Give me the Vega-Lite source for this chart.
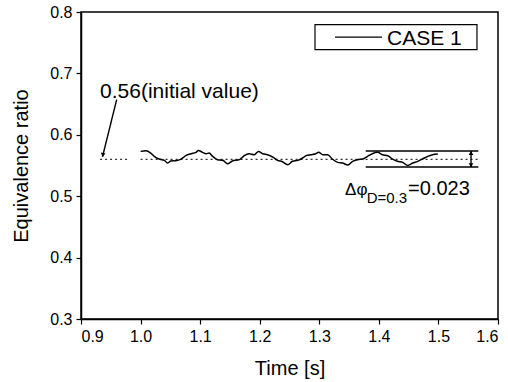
{
  "$schema": "https://vega.github.io/schema/vega-lite/v6.json",
  "width": 417,
  "height": 307,
  "autosize": {"type": "none"},
  "padding": {"left": 81, "top": 12, "right": 10, "bottom": 63},
  "background": "white",
  "config": {
    "font": "Liberation Sans",
    "view": {"stroke": "black", "strokeWidth": 1.5},
    "text": {"align": "left", "baseline": "alphabetic", "color": "black", "font": "Liberation Sans"},
    "axis": {
      "grid": false,
      "domainColor": "black",
      "domainWidth": 1.5,
      "tickColor": "black",
      "tickWidth": 1.2,
      "labelColor": "black",
      "titleColor": "black",
      "labelFont": "Liberation Sans",
      "titleFont": "Liberation Sans",
      "labelFontSize": 16,
      "titleFontSize": 20,
      "titleFontWeight": "normal",
      "labelPadding": 4
    }
  },
  "datasets": {
    "curve": [
      {"t": 1.000, "phi": 0.5730}, {"t": 1.009, "phi": 0.5741}, {"t": 1.017, "phi": 0.5703},
      {"t": 1.023, "phi": 0.5649}, {"t": 1.031, "phi": 0.5605}, {"t": 1.040, "phi": 0.5584},
      {"t": 1.045, "phi": 0.5540}, {"t": 1.051, "phi": 0.5573}, {"t": 1.059, "phi": 0.5578},
      {"t": 1.068, "phi": 0.5605}, {"t": 1.076, "phi": 0.5660}, {"t": 1.085, "phi": 0.5692},
      {"t": 1.093, "phi": 0.5714}, {"t": 1.097, "phi": 0.5746}, {"t": 1.104, "phi": 0.5714},
      {"t": 1.110, "phi": 0.5692}, {"t": 1.115, "phi": 0.5703}, {"t": 1.121, "phi": 0.5649},
      {"t": 1.129, "phi": 0.5595}, {"t": 1.138, "phi": 0.5584}, {"t": 1.146, "phi": 0.5529},
      {"t": 1.154, "phi": 0.5573}, {"t": 1.166, "phi": 0.5595}, {"t": 1.174, "phi": 0.5660},
      {"t": 1.182, "phi": 0.5692}, {"t": 1.191, "phi": 0.5676}, {"t": 1.198, "phi": 0.5730},
      {"t": 1.205, "phi": 0.5692}, {"t": 1.213, "phi": 0.5676}, {"t": 1.222, "phi": 0.5638},
      {"t": 1.230, "phi": 0.5584}, {"t": 1.238, "phi": 0.5562}, {"t": 1.247, "phi": 0.5513},
      {"t": 1.255, "phi": 0.5568}, {"t": 1.264, "phi": 0.5584}, {"t": 1.272, "phi": 0.5622},
      {"t": 1.278, "phi": 0.5660}, {"t": 1.286, "phi": 0.5676}, {"t": 1.294, "phi": 0.5692},
      {"t": 1.299, "phi": 0.5714}, {"t": 1.306, "phi": 0.5676}, {"t": 1.314, "phi": 0.5676},
      {"t": 1.322, "phi": 0.5605}, {"t": 1.331, "phi": 0.5551}, {"t": 1.339, "phi": 0.5540},
      {"t": 1.348, "phi": 0.5508}, {"t": 1.356, "phi": 0.5568}, {"t": 1.364, "phi": 0.5595},
      {"t": 1.373, "phi": 0.5605}, {"t": 1.381, "phi": 0.5649}, {"t": 1.389, "phi": 0.5692},
      {"t": 1.398, "phi": 0.5714}, {"t": 1.406, "phi": 0.5676}, {"t": 1.415, "phi": 0.5660},
      {"t": 1.423, "phi": 0.5605}, {"t": 1.431, "phi": 0.5568}, {"t": 1.440, "phi": 0.5551},
      {"t": 1.448, "phi": 0.5502}, {"t": 1.457, "phi": 0.5540}, {"t": 1.465, "phi": 0.5568},
      {"t": 1.473, "phi": 0.5605}, {"t": 1.482, "phi": 0.5649}, {"t": 1.490, "phi": 0.5676},
      {"t": 1.499, "phi": 0.5687}
    ],
    "dotted": [
      {"x": 0.932, "x2": 0.981, "y": 0.56, "y2": 0.56},
      {"x": 1.000, "x2": 1.568, "y": 0.56, "y2": 0.56}
    ],
    "solid": [
      {"x": 1.378, "x2": 1.567, "y": 0.5735, "y2": 0.5735},
      {"x": 1.378, "x2": 1.567, "y": 0.5475, "y2": 0.5475},
      {"x": 1.5547, "x2": 1.5547, "y": 0.5735, "y2": 0.5475},
      {"x": 0.9599, "x2": 0.9361, "y": 0.6572, "y2": 0.5643},
      {"x": 1.3264, "x2": 1.4053, "y": 0.759, "y2": 0.759}
    ],
    "arrowsDown": [
      {"x": 0.9366, "y": 0.5672, "a": 12},
      {"x": 1.5547, "y": 0.5505, "a": 0}
    ],
    "arrowsUp": [
      {"x": 1.5547, "y": 0.5705}
    ],
    "legendBox": [
      {"x": 1.2928, "x2": 1.5647, "y": 0.7793, "y2": 0.7386}
    ],
    "note": [
      {"x": 0.932, "y": 0.6604, "label": "0.56(initial value)"}
    ],
    "delta": [
      {"x": 1.3432, "y": 0.5025, "label": "Δφ"}
    ],
    "deltaValue": [
      {"x": 1.449, "y": 0.5025, "label": "=0.023"}
    ],
    "deltaSub": [
      {"x": 1.3795, "y": 0.4885, "label": "D=0.3"}
    ],
    "legendText": [
      {"x": 1.4137, "y": 0.7467, "label": "CASE 1"}
    ]
  },
  "layer": [
    {
      "data": {"name": "legendBox"},
      "mark": {"type": "rect", "fill": "white", "stroke": "black", "strokeWidth": 1.2},
      "encoding": {
        "x": {"field": "x", "type": "quantitative", "scale": {"domain": [0.9, 1.6], "nice": false, "zero": false},
          "axis": {
            "title": "Time [s]",
            "values": [0.9, 0.95, 1.0, 1.05, 1.1, 1.15, 1.2, 1.25, 1.3, 1.35, 1.4, 1.45, 1.5, 1.55, 1.6],
            "labelExpr": "abs(datum.value*10 - round(datum.value*10)) < 0.001 ? format(datum.value, '.1f') : ''",
            "tickSize": {"condition": {"test": "abs(datum.value*10 - round(datum.value*10)) < 0.001", "value": 5}, "value": 3},
            "titlePadding": 14
          }},
        "x2": {"field": "x2"},
        "y": {"field": "y", "type": "quantitative", "scale": {"domain": [0.3, 0.8], "nice": false, "zero": false},
          "axis": {
            "title": "Equivalence ratio",
            "values": [0.3, 0.35, 0.4, 0.45, 0.5, 0.55, 0.6, 0.65, 0.7, 0.75, 0.8],
            "labelExpr": "abs(datum.value*10 - round(datum.value*10)) < 0.001 ? format(datum.value, '.1f') : ''",
            "tickSize": {"condition": {"test": "abs(datum.value*10 - round(datum.value*10)) < 0.001", "value": 5}, "value": 3},
            "titlePadding": 18
          }},
        "y2": {"field": "y2"}
      }
    },
    {
      "data": {"name": "dotted"},
      "mark": {"type": "rule", "stroke": "#333333", "strokeWidth": 1.2, "strokeDash": [2, 3]},
      "encoding": {
        "x": {"field": "x", "type": "quantitative"},
        "x2": {"field": "x2"},
        "y": {"field": "y", "type": "quantitative"},
        "y2": {"field": "y2"}
      }
    },
    {
      "data": {"name": "solid"},
      "mark": {"type": "rule", "stroke": "black", "strokeWidth": 1.4},
      "encoding": {
        "x": {"field": "x", "type": "quantitative"},
        "x2": {"field": "x2"},
        "y": {"field": "y", "type": "quantitative"},
        "y2": {"field": "y2"}
      }
    },
    {
      "data": {"name": "curve"},
      "mark": {"type": "line", "stroke": "black", "strokeWidth": 1.5, "interpolate": "monotone"},
      "encoding": {
        "x": {"field": "t", "type": "quantitative"},
        "y": {"field": "phi", "type": "quantitative"}
      }
    },
    {
      "data": {"name": "arrowsDown"},
      "mark": {"type": "point", "shape": "triangle-down", "filled": true, "color": "black", "size": 22, "opacity": 1},
      "encoding": {
        "x": {"field": "x", "type": "quantitative"},
        "y": {"field": "y", "type": "quantitative"},
        "angle": {"field": "a", "type": "quantitative", "scale": null}
      }
    },
    {
      "data": {"name": "arrowsUp"},
      "mark": {"type": "point", "shape": "triangle-up", "filled": true, "color": "black", "size": 22, "opacity": 1},
      "encoding": {
        "x": {"field": "x", "type": "quantitative"},
        "y": {"field": "y", "type": "quantitative"}
      }
    },
    {
      "data": {"name": "note"},
      "mark": {"type": "text", "fontSize": 21},
      "encoding": {
        "x": {"field": "x", "type": "quantitative"},
        "y": {"field": "y", "type": "quantitative"},
        "text": {"field": "label"}
      }
    },
    {
      "data": {"name": "delta"},
      "mark": {"type": "text", "fontSize": 17},
      "encoding": {
        "x": {"field": "x", "type": "quantitative"},
        "y": {"field": "y", "type": "quantitative"},
        "text": {"field": "label"}
      }
    },
    {
      "data": {"name": "deltaValue"},
      "mark": {"type": "text", "fontSize": 20},
      "encoding": {
        "x": {"field": "x", "type": "quantitative"},
        "y": {"field": "y", "type": "quantitative"},
        "text": {"field": "label"}
      }
    },
    {
      "data": {"name": "deltaSub"},
      "mark": {"type": "text", "fontSize": 15},
      "encoding": {
        "x": {"field": "x", "type": "quantitative"},
        "y": {"field": "y", "type": "quantitative"},
        "text": {"field": "label"}
      }
    },
    {
      "data": {"name": "legendText"},
      "mark": {"type": "text", "fontSize": 21},
      "encoding": {
        "x": {"field": "x", "type": "quantitative"},
        "y": {"field": "y", "type": "quantitative"},
        "text": {"field": "label"}
      }
    }
  ]
}
